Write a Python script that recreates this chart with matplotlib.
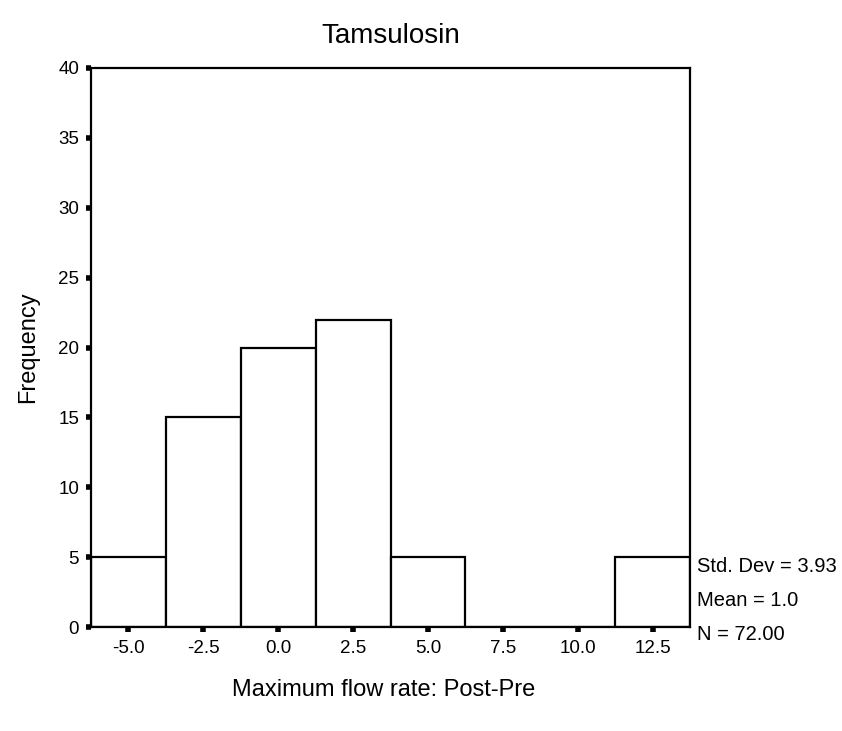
import matplotlib
matplotlib.use("Agg")
import matplotlib.pyplot as plt
import numpy as np

# histogram data
bin_centers = [-5.0, -2.5, 0.0, 2.5, 5.0, 7.5, 10.0, 12.5]
counts = [5, 15, 20, 22, 5, 0, 0, 5]
xtick_labels = ["-5.0", "-2.5", "0.0", "2.5", "5.0", "7.5", "10.0", "12.5"]
yticks = [0, 5, 10, 15, 20, 25, 30, 35, 40]
stats = ["Std. Dev = 3.93", "Mean = 1.0", "N = 72.00"]

plt.rcParams['font.family'] = ['Liberation Sans', 'DejaVu Sans']

fig = plt.figure(figsize=(8.42, 7.31), dpi=100)
ax = fig.add_axes([91/842, 1-627/731, (690-91)/842, (627-68)/731])

ax.bar(bin_centers, counts, width=2.5, color='white', edgecolor='black',
       linewidth=1.6, zorder=2)

ax.set_xlim(-6.25, 13.75)
ax.set_ylim(0, 40)
ax.set_xticks(bin_centers)
ax.set_xticklabels(xtick_labels)
ax.set_yticks(yticks)
ax.tick_params(axis='both', direction='out', length=3.5, width=4,
               labelsize=13.5, color='black')
ax.tick_params(axis='x', pad=6)
ax.tick_params(axis='y', pad=5)
for s in ax.spines.values():
    s.set_linewidth(1.6)

ax.set_title("Tamsulosin", fontsize=20, pad=18)
fig.text(28/842, 1-347/731, "Frequency", rotation=90, fontsize=17,
         ha='center', va='center')
fig.text(384/842, 1-690/731, "Maximum flow rate: Post-Pre", fontsize=17,
         ha='center', va='center')

for i, s in enumerate(stats):
    fig.text(697/842, 1-(566+34*i)/731, s, fontsize=14.5, ha='left', va='center')

fig.savefig("out.png", dpi=100)
